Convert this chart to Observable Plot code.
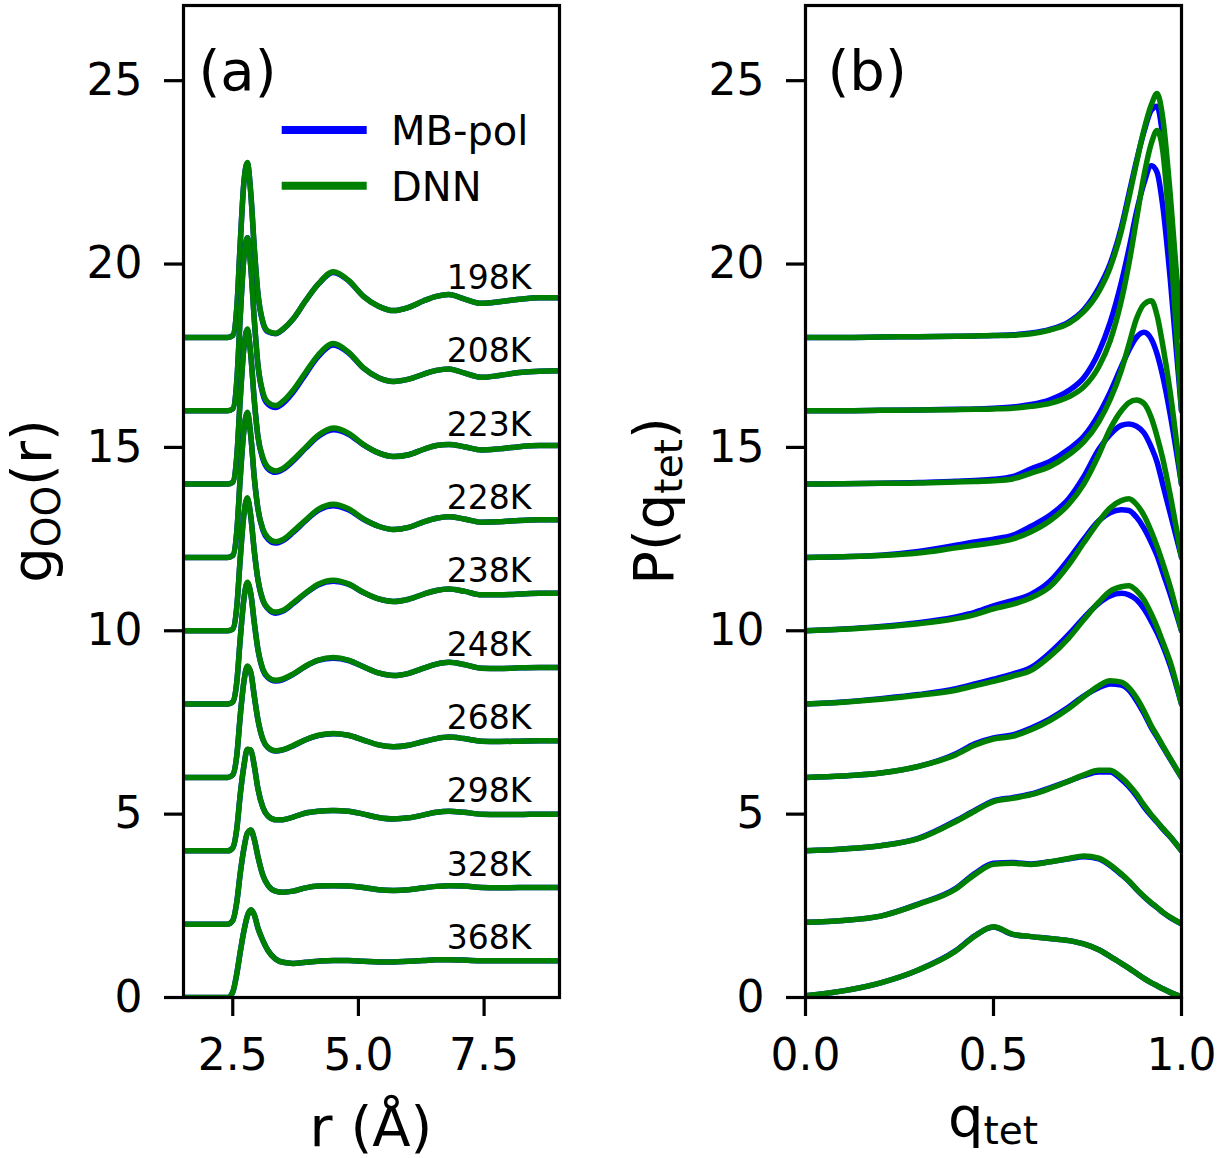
<!DOCTYPE html>
<html>
<head>
<meta charset="utf-8">
<script src="https://cdn.jsdelivr.net/npm/d3@7"></script>
<script src="https://cdn.jsdelivr.net/npm/@observablehq/plot@0.6"></script>
<style>
  html, body { margin: 0; padding: 0; background: #fff; }
  #wrap { position: relative; width: 1228px; height: 1158px; background: #fff; font-family: "DejaVu Sans", sans-serif; }
  #wrap > svg { position: absolute; top: 0; overflow: visible; }
</style>
</head>
<body>
<div id="wrap"></div>
<script>
// ---------- data ----------
const temps = ["198K", "208K", "223K", "228K", "238K", "248K", "268K", "298K", "328K", "368K"];
const offsets = [18, 16, 14, 12, 10, 8, 6, 4, 2, 0];

// panel (a): g_OO(r)
const rGrid = [1.52, 2.4, 2.5, 2.58, 2.65, 2.72, 2.79, 2.86, 2.93, 3.0, 3.1, 3.2, 3.35, 3.5, 3.7, 3.95, 4.2, 4.5, 4.8, 5.1, 5.4, 5.7, 6.0, 6.3, 6.55, 6.8, 7.1, 7.45, 7.8, 8.2, 8.6, 9.0];

const gMB_198 = [0,0,0.05,0.8,2.6,4.2,4.75,3.9,2.4,1.2,0.4,0.15,0.1,0.22,0.5,1.0,1.45,1.77,1.55,1.12,0.85,0.73,0.82,1.0,1.12,1.17,1.05,0.93,0.97,1.04,1.08,1.08];
const gMB_208 = [0,0,0.05,0.8,2.6,4.15,4.72,3.9,2.45,1.25,0.45,0.18,0.09,0.2,0.5,1.0,1.48,1.79,1.58,1.16,0.9,0.8,0.86,1.0,1.1,1.14,1.03,0.91,0.96,1.04,1.08,1.09];
const gMB_223 = [0,0,0.05,0.75,2.35,3.7,4.2,3.5,2.25,1.3,0.68,0.42,0.32,0.4,0.63,0.98,1.3,1.48,1.36,1.07,0.85,0.75,0.8,0.95,1.05,1.08,1.02,0.93,0.96,1.02,1.05,1.05];
const gMB_228 = [0,0,0.05,0.7,2.2,3.45,3.93,3.3,2.15,1.33,0.74,0.5,0.39,0.46,0.68,1.0,1.28,1.41,1.3,1.04,0.85,0.76,0.82,0.97,1.07,1.11,1.05,0.96,0.97,1.01,1.03,1.03];
const gMB_238 = [0,0,0.05,0.65,2.0,3.15,3.6,3.1,2.15,1.4,0.82,0.6,0.48,0.54,0.74,1.02,1.25,1.35,1.27,1.04,0.87,0.8,0.86,1.0,1.1,1.14,1.08,0.98,0.98,1.0,1.02,1.02];
const gMB_248 = [0,0,0.06,0.6,1.8,2.85,3.3,3.0,2.2,1.5,0.93,0.72,0.63,0.67,0.81,1.03,1.19,1.25,1.19,1.02,0.85,0.78,0.84,0.98,1.09,1.14,1.08,0.98,0.97,0.99,1.0,1.0];
const gMB_268 = [0,0,0.07,0.6,1.7,2.6,3.02,2.85,2.2,1.58,1.03,0.81,0.72,0.75,0.86,1.03,1.14,1.19,1.15,1.02,0.89,0.84,0.88,0.98,1.06,1.1,1.06,0.99,0.98,0.99,1.0,1.0];
const gMB_298 = [0,0,0.08,0.6,1.55,2.3,2.76,2.74,2.3,1.7,1.18,0.95,0.85,0.85,0.92,1.03,1.08,1.1,1.08,1.0,0.91,0.87,0.9,0.98,1.05,1.08,1.05,1.0,0.99,0.99,1.0,1.0];
const gMB_328 = [0,0,0.1,0.6,1.4,2.05,2.48,2.56,2.3,1.85,1.33,1.06,0.9,0.87,0.9,0.99,1.04,1.05,1.04,1.0,0.94,0.92,0.94,0.99,1.03,1.05,1.04,1.0,0.99,1.0,1.0,1.0];
const gMB_368 = [0,0,0.15,0.65,1.25,1.8,2.22,2.38,2.25,1.9,1.55,1.28,1.05,0.96,0.93,0.96,0.99,1.01,1.01,0.99,0.97,0.97,0.99,1.01,1.03,1.03,1.02,1.0,1.0,1.0,1.0,1.0];

const gDNN_198 = [0,0,0.05,0.8,2.6,4.2,4.77,3.9,2.4,1.2,0.42,0.17,0.11,0.23,0.5,1.0,1.45,1.79,1.56,1.12,0.85,0.73,0.82,1.0,1.12,1.17,1.05,0.93,0.97,1.04,1.08,1.08];
const gDNN_208 = [0,0,0.05,0.8,2.6,4.15,4.72,3.9,2.45,1.27,0.5,0.23,0.14,0.26,0.56,1.05,1.52,1.83,1.6,1.17,0.9,0.8,0.86,1.0,1.1,1.14,1.03,0.91,0.96,1.04,1.08,1.09];
const gDNN_223 = [0,0,0.05,0.75,2.35,3.7,4.23,3.5,2.25,1.3,0.72,0.46,0.36,0.43,0.66,1.0,1.33,1.53,1.39,1.08,0.85,0.75,0.8,0.95,1.05,1.08,1.02,0.93,0.96,1.02,1.05,1.05];
const gDNN_228 = [0,0,0.05,0.7,2.2,3.45,3.96,3.3,2.15,1.33,0.77,0.54,0.43,0.49,0.71,1.02,1.31,1.45,1.33,1.05,0.85,0.76,0.82,0.97,1.07,1.11,1.05,0.96,0.97,1.01,1.03,1.03];
const gDNN_238 = [0,0,0.05,0.65,2.0,3.15,3.63,3.1,2.15,1.4,0.84,0.62,0.51,0.56,0.76,1.03,1.27,1.38,1.28,1.05,0.87,0.8,0.86,1.0,1.1,1.14,1.08,0.98,0.98,1.0,1.02,1.02];
const gDNN_248 = [0,0,0.06,0.6,1.8,2.85,3.32,3.0,2.2,1.5,0.95,0.74,0.65,0.69,0.82,1.04,1.2,1.27,1.2,1.02,0.85,0.78,0.84,0.98,1.09,1.14,1.08,0.98,0.97,0.99,1.0,1.0];
const gDNN_268 = [0,0,0.07,0.6,1.7,2.6,3.04,2.86,2.2,1.58,1.04,0.82,0.73,0.76,0.87,1.03,1.15,1.2,1.15,1.02,0.89,0.84,0.88,0.98,1.06,1.1,1.06,0.99,0.98,0.99,1.0,1.0];
const gDNN_298 = [0,0,0.08,0.6,1.55,2.3,2.77,2.75,2.3,1.7,1.18,0.95,0.85,0.85,0.92,1.03,1.08,1.1,1.08,1.0,0.91,0.87,0.9,0.98,1.05,1.08,1.05,1.0,0.99,0.99,1.0,1.0];
const gDNN_328 = [0,0,0.1,0.6,1.4,2.05,2.48,2.57,2.3,1.85,1.33,1.06,0.9,0.87,0.9,0.99,1.04,1.05,1.04,1.0,0.94,0.92,0.94,0.99,1.03,1.05,1.04,1.0,0.99,1.0,1.0,1.0];
const gDNN_368 = [0,0,0.15,0.65,1.25,1.8,2.22,2.39,2.25,1.9,1.55,1.28,1.05,0.96,0.93,0.96,0.99,1.01,1.01,0.99,0.97,0.97,0.99,1.01,1.03,1.03,1.02,1.0,1.0,1.0,1.0,1.0];

// panel (b): P(q_tet)
const qGrid = [0, 0.1, 0.2, 0.3, 0.4, 0.45, 0.5, 0.55, 0.6, 0.65, 0.7, 0.74, 0.78, 0.81, 0.84, 0.86, 0.88, 0.9, 0.92, 0.935, 0.95, 0.97, 1.0];

const pMB_198 = [0,0,0.01,0.02,0.03,0.04,0.05,0.07,0.12,0.22,0.42,0.75,1.35,2.0,3.0,3.9,4.8,5.6,6.2,6.3,5.5,3.5,0];
const pMB_208 = [0,0,0.01,0.02,0.04,0.05,0.07,0.1,0.17,0.3,0.55,0.9,1.6,2.4,3.5,4.4,5.4,6.2,6.68,6.5,5.6,3.6,0];
const pMB_223 = [0,0.01,0.02,0.04,0.08,0.1,0.13,0.2,0.42,0.62,0.95,1.3,1.9,2.5,3.2,3.65,4.0,4.14,3.95,3.55,2.95,1.9,0];
const pMB_228 = [0,0.02,0.06,0.16,0.33,0.42,0.5,0.6,0.85,1.15,1.6,2.2,2.95,3.35,3.6,3.64,3.58,3.4,3.0,2.6,2.0,1.2,0];
const pMB_238 = [0,0.05,0.12,0.22,0.38,0.5,0.68,0.82,1.0,1.35,1.95,2.5,3.0,3.22,3.3,3.28,3.1,2.8,2.4,2.05,1.6,1.0,0];
const pMB_248 = [0,0.06,0.15,0.26,0.42,0.55,0.68,0.82,1.0,1.4,1.9,2.35,2.75,2.95,3.02,2.98,2.85,2.6,2.25,1.95,1.6,1.05,0];
const pMB_268 = [0,0.04,0.12,0.3,0.65,0.92,1.08,1.16,1.35,1.6,1.92,2.22,2.45,2.55,2.52,2.38,2.1,1.75,1.35,1.1,0.84,0.5,0];
const pMB_298 = [0,0.05,0.14,0.34,0.82,1.1,1.36,1.45,1.55,1.72,1.9,2.05,2.15,2.15,1.95,1.75,1.5,1.2,0.95,0.78,0.6,0.38,0];
const pMB_328 = [0.05,0.1,0.22,0.55,0.98,1.38,1.66,1.68,1.64,1.7,1.78,1.84,1.78,1.6,1.35,1.17,0.95,0.75,0.57,0.45,0.32,0.18,0.01];
const pMB_368 = [0.05,0.18,0.4,0.75,1.28,1.68,1.92,1.72,1.66,1.61,1.55,1.46,1.3,1.12,0.93,0.8,0.66,0.52,0.4,0.32,0.24,0.14,0.02];

const pDNN_198 = [0,0,0.01,0.02,0.03,0.04,0.05,0.06,0.1,0.2,0.38,0.7,1.25,1.9,2.9,3.8,4.75,5.65,6.35,6.65,6.0,3.9,0];
const pDNN_208 = [0,0,0.01,0.02,0.03,0.04,0.05,0.07,0.12,0.2,0.38,0.65,1.2,1.9,3.0,4.0,5.2,6.4,7.3,7.64,7.1,4.7,0];
const pDNN_223 = [0,0.01,0.02,0.03,0.06,0.07,0.09,0.14,0.3,0.48,0.8,1.15,1.7,2.3,3.1,3.8,4.5,4.9,5.0,4.6,3.8,2.5,0];
const pDNN_228 = [0,0.02,0.05,0.12,0.26,0.33,0.4,0.5,0.7,1.0,1.45,2.0,2.8,3.5,4.0,4.22,4.29,4.2,3.8,3.3,2.7,1.7,0];
const pDNN_238 = [0,0.04,0.1,0.19,0.33,0.44,0.6,0.72,0.9,1.2,1.8,2.4,2.98,3.35,3.55,3.6,3.45,3.15,2.7,2.3,1.85,1.2,0];
const pDNN_248 = [0,0.05,0.13,0.24,0.38,0.5,0.62,0.76,0.92,1.3,1.8,2.3,2.78,3.08,3.2,3.23,3.1,2.85,2.45,2.1,1.7,1.15,0];
const pDNN_268 = [0,0.04,0.12,0.3,0.62,0.88,1.05,1.12,1.3,1.55,1.88,2.2,2.5,2.64,2.6,2.45,2.18,1.82,1.4,1.14,0.87,0.52,0];
const pDNN_298 = [0,0.05,0.14,0.33,0.8,1.08,1.34,1.43,1.53,1.7,1.9,2.07,2.2,2.2,2.0,1.8,1.55,1.25,0.98,0.8,0.62,0.39,0];
const pDNN_328 = [0.05,0.1,0.22,0.54,0.96,1.35,1.63,1.66,1.63,1.7,1.79,1.86,1.8,1.62,1.37,1.18,0.96,0.76,0.58,0.46,0.33,0.19,0.01];
const pDNN_368 = [0.05,0.18,0.4,0.75,1.27,1.67,1.93,1.73,1.66,1.61,1.55,1.46,1.3,1.12,0.93,0.8,0.66,0.52,0.4,0.32,0.24,0.14,0.02];

const gMB = [gMB_198, gMB_208, gMB_223, gMB_228, gMB_238, gMB_248, gMB_268, gMB_298, gMB_328, gMB_368];
const gDNN = [gDNN_198, gDNN_208, gDNN_223, gDNN_228, gDNN_238, gDNN_248, gDNN_268, gDNN_298, gDNN_328, gDNN_368];
const pMB = [pMB_198, pMB_208, pMB_223, pMB_228, pMB_238, pMB_248, pMB_268, pMB_298, pMB_328, pMB_368];
const pDNN = [pDNN_198, pDNN_208, pDNN_223, pDNN_228, pDNN_238, pDNN_248, pDNN_268, pDNN_298, pDNN_328, pDNN_368];

const yTicks = [0, 5, 10, 15, 20, 25];
const rTicks = [2.5, 5.0, 7.5];
const qTicks = [0.0, 0.5, 1.0];

// ---------- drawing ----------
const BLUE = "#0000ff", GREEN = "#008000";
const FONT = "DejaVu Sans";

function rowsFor(grid, arr, i) {
  return grid.map((x, j) => ({T: temps[i], x, y: arr[j] + offsets[i]}));
}

function lineMarks(grid, mbArrs, dnnArrs) {
  const marks = [];
  temps.forEach((t, i) => {
    marks.push(Plot.line(rowsFor(grid, mbArrs[i], i), {x: "x", y: "y", stroke: BLUE, strokeWidth: 5.5, curve: "monotone-x", clip: true}));
    marks.push(Plot.line(rowsFor(grid, dnnArrs[i], i), {x: "x", y: "y", stroke: GREEN, strokeWidth: 5.5, curve: "monotone-x", clip: true}));
  });
  return marks;
}

function axes(xTicks) {
  return [
    Plot.axisY({ticks: yTicks, tickFormat: d3.format("d"), tickSize: 19, tickPadding: 22, fontSize: 44, strokeWidth: 3.2, label: null}),
    Plot.axisX({ticks: xTicks, tickFormat: d => d.toFixed(1), tickSize: 19, tickPadding: 22, fontSize: 44, strokeWidth: 3.2, label: null})
  ];
}

const labelRows = temps.map((t, i) => ({T: t, x: 8.44, y: offsets[i] + 1.32}));

const left = Plot.plot({
  width: 614, height: 1158,
  marginLeft: 183, marginRight: 55, marginTop: 5, marginBottom: 161,
  style: {fontFamily: FONT, background: "transparent", color: "black"},
  x: {domain: [1.52, 9.0]},
  y: {domain: [0, 27.05]},
  marks: [
    ...axes(rTicks),
    ...lineMarks(rGrid, gMB, gDNN),
    Plot.text(labelRows, {x: "x", y: "y", text: "T", textAnchor: "end", lineAnchor: "bottom", fontSize: 33, fill: "black"}),
    Plot.frame({stroke: "black", strokeWidth: 3.2})
  ]
});

const right = Plot.plot({
  width: 614, height: 1158,
  marginLeft: 191, marginRight: 47, marginTop: 5, marginBottom: 161,
  style: {fontFamily: FONT, background: "transparent", color: "black"},
  x: {domain: [0, 1]},
  y: {domain: [0, 27.05]},
  marks: [
    ...axes(qTicks),
    ...lineMarks(qGrid, pMB, pDNN),
    Plot.frame({stroke: "black", strokeWidth: 3.2})
  ]
});

const wrap = document.getElementById("wrap");
left.style.left = "0px";
right.style.left = "614px";
wrap.appendChild(left);
wrap.appendChild(right);

// ---------- labels, legend ----------
function addLabel(svg, x, y, rotate, parts) {
  const t = d3.select(svg).append("text")
    .attr("transform", `translate(${x},${y})` + (rotate ? ` rotate(${rotate})` : ""))
    .attr("text-anchor", "middle")
    .attr("font-family", FONT)
    .attr("font-size", 56)
    .attr("fill", "black");
  parts.forEach(p => {
    const ts = t.append("tspan").text(p.text);
    if (p.sub) ts.attr("font-size", 39).attr("dy", p.dy);
    else if (p.dy) ts.attr("dy", p.dy);
  });
  return t;
}

// axis labels
addLabel(left, 371, 1146, 0, [{text: "r (Å)"}]);
addLabel(left, 51, 501, -90, [{text: "g"}, {text: "OO", sub: true, dy: 9}, {text: "(r)", dy: -9}]);
addLabel(right, 379, 1136, 0, [{text: "q"}, {text: "tet", sub: true, dy: 8}]);
addLabel(right, 58.5, 501, -90, [{text: "P(q"}, {text: "tet", sub: true, dy: 9}, {text: ")", dy: -9}]);

// panel tags
function addTag(svg, x, y, s) {
  d3.select(svg).append("text").attr("x", x).attr("y", y)
    .attr("text-anchor", "start").attr("font-family", FONT).attr("font-size", 56).attr("fill", "black").text(s);
}
addTag(left, 198.5, 89.5, "(a)");
addTag(right, 213.5, 89.5, "(b)");

// legend
const legendItems = [{name: "MB-pol", color: BLUE}, {name: "DNN", color: GREEN}];
const lg = d3.select(left).append("g").attr("class", "legend");
legendItems.forEach((d, i) => {
  const y = 130 + i * 55.7;
  lg.append("line").attr("x1", 281.7).attr("x2", 366.7).attr("y1", y).attr("y2", y)
    .attr("stroke", d.color).attr("stroke-width", 8);
  lg.append("text").attr("x", 391).attr("y", y + 15).attr("text-anchor", "start")
    .attr("font-family", FONT).attr("font-size", 40).attr("fill", "black").text(d.name);
});
</script>
</body>
</html>
